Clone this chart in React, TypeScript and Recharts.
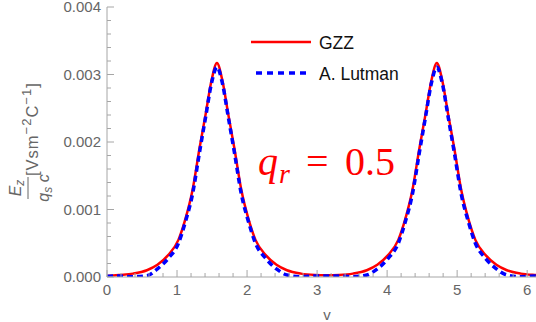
import React from "react";
import { LineChart, Line, XAxis, YAxis, Legend } from "recharts";

const vValues = [
  0, 0.17, 0.37, 0.57, 0.72, 0.87, 1.02, 1.12, 1.22, 1.32, 1.41, 1.49, 1.57,
  1.65, 1.73, 1.82, 1.92, 2.02, 2.12, 2.27, 2.42, 2.57, 2.77, 2.97, 3.14,
  3.31, 3.51, 3.71, 3.86, 4.01, 4.16, 4.26, 4.36, 4.46, 4.55, 4.63, 4.71,
  4.79, 4.87, 4.96, 5.06, 5.16, 5.26, 5.41, 5.56, 5.71, 5.91, 6.11, 6.28,
];

// GZZ (red, solid)
const gzzValues = [
  0.000015, 0.00003, 0.00005, 0.0001, 0.00018, 0.00032, 0.00055, 0.00086, 0.00128, 0.0019, 0.00242, 0.0029, 0.00317,
  0.0029, 0.00242, 0.0019, 0.00128, 0.00086, 0.00055, 0.00032, 0.00018, 0.0001, 0.00005, 0.00003, 0.000025,
  0.00003, 0.00005, 0.0001, 0.00018, 0.00032, 0.00055, 0.00086, 0.00128, 0.0019, 0.00242, 0.0029, 0.00317,
  0.0029, 0.00242, 0.0019, 0.00128, 0.00086, 0.00055, 0.00032, 0.00018, 0.0001, 0.00005, 0.00003, 0.00002,
];

// A. Lutman (blue, dashed)
const lutmanValues = [
  0.000012, 0.000015, 0.000005, 0.00002, 0.00012, 0.00027, 0.0005, 0.00082, 0.00122, 0.00184, 0.00238, 0.00286, 0.00311,
  0.00286, 0.00238, 0.00184, 0.00122, 0.00082, 0.0005, 0.00027, 0.00012, 0.00003, 0.000005, 0.000015, 0.000015,
  0.000015, 0.000005, 0.00003, 0.00012, 0.00027, 0.0005, 0.00082, 0.00122, 0.00184, 0.00238, 0.00286, 0.00311,
  0.00286, 0.00238, 0.00184, 0.00122, 0.00082, 0.0005, 0.00027, 0.00012, 0.00003, 0.000005, 0.000015, 0.000015,
];

const seriesNames = ["GZZ", "A. Lutman"];

const xMajorTicks = [0, 1, 2, 3, 4, 5, 6];
const xMinorTicks = [
  0.2, 0.4, 0.6, 0.8, 1.2, 1.4, 1.6, 1.8, 2.2, 2.4, 2.6, 2.8, 3.2, 3.4, 3.6, 3.8,
  4.2, 4.4, 4.6, 4.8, 5.2, 5.4, 5.6, 5.8, 6.2,
];
const yMajorTicks = [0, 0.001, 0.002, 0.003, 0.004];
const yTickLabels = ["0.000", "0.001", "0.002", "0.003", "0.004"];
const yMinorTicks = [
  0.0002, 0.0004, 0.0006, 0.0008, 0.0012, 0.0014, 0.0016, 0.0018,
  0.0022, 0.0024, 0.0026, 0.0028, 0.0032, 0.0034, 0.0036, 0.0038,
];

const data = vValues.map((v, i) => ({ v, gzz: gzzValues[i], lutman: lutmanValues[i] }));

const AXIS = "#a6a6a6";
const LABEL = "#666";
const SANS = "'Liberation Sans', Arial, sans-serif";
const SERIF = "'Liberation Serif', 'Times New Roman', serif";

const XTick = (props: any) => {
  const { x, y, payload } = props;
  const major = xMajorTicks.includes(payload.value);
  return (
    <g>
      <line x1={x} x2={x} y1={y} y2={y - (major ? 7 : 4)} stroke={AXIS} />
      {major && (
        <text x={x} y={y + 18} textAnchor="middle" fill={LABEL} fontSize={15} fontFamily={SANS}>
          {payload.value}
        </text>
      )}
    </g>
  );
};

const YTick = (props: any) => {
  const { x, y, payload } = props;
  const idx = yMajorTicks.indexOf(payload.value);
  const major = idx >= 0;
  return (
    <g>
      <line x1={x} x2={x + (major ? 7 : 4)} y1={y} y2={y} stroke={AXIS} />
      {major && (
        <text x={x - 6} y={y + 5} textAnchor="end" fill={LABEL} fontSize={15} fontFamily={SANS}>
          {yTickLabels[idx]}
        </text>
      )}
    </g>
  );
};

const renderLegend = (props: any) => {
  const entries = [...(props.payload || [])].sort(
    (a: any, b: any) => seriesNames.indexOf(a.value) - seriesNames.indexOf(b.value)
  );
  return (
    <svg width={170} height={62}>
      {entries.map((e: any, i: number) => {
        const dashed = e.value === "A. Lutman";
        const ly = 14 + i * 31;
        return (
          <g key={e.value}>
            <line
              x1={dashed ? 11 : 6}
              x2={dashed ? 62 : 66}
              y1={ly}
              y2={ly}
              stroke={e.color}
              strokeWidth={dashed ? 3.5 : 2.5}
              strokeDasharray={dashed ? "6 5" : undefined}
            />
            <text x={74} y={ly + 6.5} fontSize={17.5} fontFamily={SANS} fill="#111">
              {e.value}
            </text>
          </g>
        );
      })}
    </svg>
  );
};

export default function App() {
  return (
    <div
      style={{
        position: "absolute",
        left: 0,
        top: 0,
        width: 536,
        height: 322,
        overflow: "hidden",
        background: "#fff",
      }}
    >
      <LineChart width={547} height={322} data={data} margin={{ top: 7, right: 0, bottom: 0, left: 0 }}>
        <XAxis
          dataKey="v"
          type="number"
          domain={[0, 6.2832]}
          allowDataOverflow
          ticks={[...xMajorTicks, ...xMinorTicks]}
          interval={0}
          tick={<XTick />}
          tickLine={false}
          tickSize={0}
          tickMargin={0}
          axisLine={{ stroke: AXIS }}
          height={45}
        />
        <YAxis
          type="number"
          domain={[0, 0.004]}
          allowDataOverflow
          ticks={[...yMajorTicks, ...yMinorTicks]}
          interval={0}
          tick={<YTick />}
          tickLine={false}
          tickSize={0}
          tickMargin={0}
          axisLine={{ stroke: AXIS }}
          width={107}
        />
        <Legend
          layout="vertical"
          align="center"
          verticalAlign="middle"
          content={renderLegend}
          wrapperStyle={{ position: "absolute", left: 245, top: 28, width: 170, height: 62 }}
        />
        <Line
          name={seriesNames[0]}
          type="monotone"
          dataKey="gzz"
          stroke="#ff0000"
          strokeWidth={2.5}
          dot={false}
          activeDot={false}
          isAnimationActive={false}
        />
        <Line
          name={seriesNames[1]}
          type="monotone"
          dataKey="lutman"
          stroke="#0000ff"
          strokeWidth={3.5}
          strokeDasharray="6 4"
          dot={false}
          activeDot={false}
          isAnimationActive={false}
        />
      </LineChart>

      {/* annotations: axis titles and the q_r label */}
      <svg
        width={536}
        height={322}
        style={{ position: "absolute", left: 0, top: 0, pointerEvents: "none" }}
      >
        <g transform="translate(38,176) rotate(-90)" fill={LABEL} fontFamily={SANS}>
          <text x={0} y={0} fontSize={16.5} letterSpacing={1}>
            [Vsm
            <tspan dy={-7} fontSize={13}>−2</tspan>
            <tspan dy={7}>C</tspan>
            <tspan dy={-7} fontSize={13}>−1</tspan>
            <tspan dy={7}>]</tspan>
          </text>
        </g>
        <g transform="translate(28,188) rotate(-90)" fill={LABEL} fontFamily={SANS}>
          <text x={0} y={-7} textAnchor="middle" fontSize={16} fontStyle="italic">
            E<tspan fontSize={12} dy={3}>z</tspan>
          </text>
          <line x1={-11} x2={11} y1={0} y2={0} stroke={LABEL} strokeWidth={1} />
          <text x={0} y={21} textAnchor="middle" fontSize={16} fontStyle="italic">
            q<tspan fontSize={12} dy={3}>s</tspan>
            <tspan dy={-3}> c</tspan>
          </text>
        </g>
        <text x={327} y={320} textAnchor="middle" fill={LABEL} fontSize={15} fontFamily={SANS}>
          v
        </text>
        <g fill="#ff0000" fontFamily={SERIF}>
          <text x={258} y={175} fontSize={40} fontStyle="italic">q</text>
          <text x={279} y={183} fontSize={28} fontStyle="italic">r</text>
          <text x={306} y={175} fontSize={40}>=</text>
          <text x={345} y={175} fontSize={40}>0.5</text>
        </g>
      </svg>
    </div>
  );
}
